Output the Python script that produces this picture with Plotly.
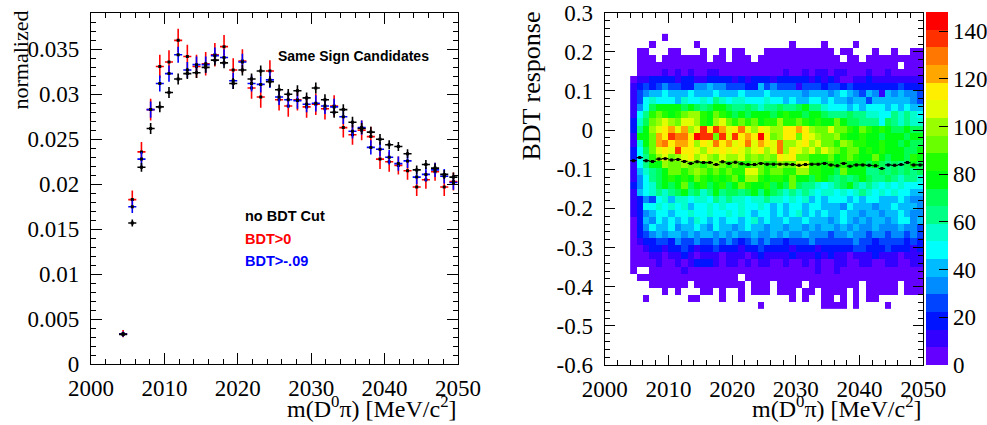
import colorsys
import plotly.graph_objects as go

# ---------------- left panel: normalized m(D0 pi) spectra ----------------
mass_centers = [2004.375, 2005.625, 2006.875, 2008.125, 2009.375, 2010.625, 2011.875,
                2013.125, 2014.375, 2015.625, 2016.875, 2018.125, 2019.375, 2020.625,
                2021.875, 2023.125, 2024.375, 2025.625, 2026.875, 2028.125, 2029.375,
                2030.625, 2031.875, 2033.125, 2034.375, 2035.625, 2036.875, 2038.125,
                2039.375, 2040.625, 2041.875, 2043.125, 2044.375, 2045.625, 2046.875,
                2048.125, 2049.375]

bdt_gt0 = [0.0034, 0.0183, 0.0236, 0.0283, 0.0331, 0.0336, 0.0360, 0.0342, 0.0331, 0.0334,
           0.0344, 0.0353, 0.0327, 0.0337, 0.0307, 0.0297, 0.0326, 0.0294, 0.0287, 0.0294,
           0.0286, 0.0289, 0.0284, 0.0287, 0.0263, 0.0255, 0.0260, 0.0253, 0.0228, 0.0225,
           0.0221, 0.0215, 0.0197, 0.0205, 0.0214, 0.0197, 0.0203]
bdt_gt0_err = [0.0004, 0.0010, 0.0011, 0.0012, 0.0013, 0.0013, 0.0013, 0.0013, 0.0013, 0.0013,
               0.0013, 0.0013, 0.0013, 0.0013, 0.0012, 0.0012, 0.0012, 0.0012, 0.0012, 0.0012,
               0.0012, 0.0012, 0.0012, 0.0012, 0.0011, 0.0011, 0.0011, 0.0011, 0.0011, 0.0011,
               0.0010, 0.0010, 0.0010, 0.0010, 0.0010, 0.0010, 0.0010]

bdt_gtm09 = [0.00335, 0.0175, 0.0228, 0.0283, 0.0312, 0.0323, 0.0344, 0.0327, 0.0333, 0.0333,
             0.0343, 0.0341, 0.0315, 0.0336, 0.0312, 0.0311, 0.0316, 0.0297, 0.0294, 0.0293,
             0.0289, 0.0290, 0.0287, 0.0286, 0.0275, 0.0259, 0.0263, 0.0241, 0.0239, 0.0230,
             0.0223, 0.0226, 0.0208, 0.0211, 0.0216, 0.0209, 0.0202]
bdt_gtm09_err = [0.0003, 0.0007, 0.0008, 0.0009, 0.0009, 0.0009, 0.0009, 0.0009, 0.0009, 0.0009,
                 0.0009, 0.0009, 0.0009, 0.0009, 0.0009, 0.0009, 0.0009, 0.0009, 0.0009, 0.0009,
                 0.0009, 0.0009, 0.0009, 0.0009, 0.0008, 0.0008, 0.0008, 0.0008, 0.0008, 0.0008,
                 0.0008, 0.0008, 0.0008, 0.0008, 0.0008, 0.0008, 0.0008]

no_cut = [0.00333, 0.0157, 0.0219, 0.0262, 0.0286, 0.0302, 0.0317, 0.0323, 0.0324, 0.0330,
          0.0338, 0.0335, 0.0312, 0.0327, 0.0317, 0.0326, 0.0314, 0.0305, 0.0300, 0.0304,
          0.0296, 0.0307, 0.0294, 0.0280, 0.0283, 0.0269, 0.0262, 0.0258, 0.0250, 0.0244,
          0.0242, 0.0234, 0.0216, 0.0222, 0.0218, 0.0211, 0.0208]
no_cut_err = [0.00025, 0.0004, 0.0005, 0.0006, 0.0006, 0.0006, 0.0006, 0.0006, 0.0006, 0.0006,
              0.0006, 0.0006, 0.0006, 0.0006, 0.0006, 0.0006, 0.0006, 0.0006, 0.0006, 0.0006,
              0.0006, 0.0006, 0.0006, 0.0006, 0.0006, 0.0006, 0.0006, 0.0006, 0.0006, 0.0005,
              0.0005, 0.0005, 0.0005, 0.0005, 0.0005, 0.0005, 0.0005]

left_yticks = [0, 0.005, 0.01, 0.015, 0.02, 0.025, 0.03, 0.035]
left_yticktext = ["0", "0.005", "0.01", "0.015", "0.02", "0.025", "0.03", "0.035"]
mass_ticks = [2000, 2010, 2020, 2030, 2040, 2050]

# ---------------- right panel: BDT response vs m(D0 pi) ----------------
hist_x = [2004.5, 2005.5, 2006.5, 2007.5, 2008.5, 2009.5, 2010.5, 2011.5, 2012.5, 2013.5,
          2014.5, 2015.5, 2016.5, 2017.5, 2018.5, 2019.5, 2020.5, 2021.5, 2022.5, 2023.5,
          2024.5, 2025.5, 2026.5, 2027.5, 2028.5, 2029.5, 2030.5, 2031.5, 2032.5, 2033.5,
          2034.5, 2035.5, 2036.5, 2037.5, 2038.5, 2039.5, 2040.5, 2041.5, 2042.5, 2043.5,
          2044.5, 2045.5, 2046.5, 2047.5, 2048.5, 2049.5]
# y bin centres from top row (0.237) down to bottom row (-0.447), bin width 0.018
hist_y = [0.237, 0.219, 0.201, 0.183, 0.165, 0.147, 0.129, 0.111, 0.093, 0.075,
          0.057, 0.039, 0.021, 0.003, -0.015, -0.033, -0.051, -0.069, -0.087, -0.105,
          -0.123, -0.141, -0.159, -0.177, -0.195, -0.213, -0.231, -0.249, -0.267, -0.285,
          -0.303, -0.321, -0.339, -0.357, -0.375, -0.393, -0.411, -0.429, -0.447]
# colour band read per cell (0..9,a..j = 20 contour bands of width 7.4 entries, '.' = empty)
band_rows = [
    ". ....0 ..... ..... ..... ..... ..... ..... ..... .....",
    ". ..0.. ....0 ..... ..... ....0 ....0 ....0 ..... .....",
    ". 00... 00... 0..0. 00... 00000 00000 0.00. ..0.. 0..00",
    ". 000.0 00000 0.00. 000.0 00000 00000 00.00 .0000 00000",
    ". 00000 00000 00000 00000 00000 00000 00000 00000 0.000",
    ". 00001 01010 01100 00000 00010 01011 01100 01001 00000",
    "0 11222 21221 12222 12122 21222 22121 21001 12111 11111",
    "1 23234 33224 45443 33225 34333 13332 33232 22222 23222",
    "1 34556 55565 55655 56555 65555 54555 45654 35415 45443",
    "1 36766 65766 76876 77666 76656 55665 65545 53555 55543",
    "1 469aa aa9a9 89aa9 88987 88988 9a887 66656 56665 65655",
    "1 68bcb abcdd bacba 9a9aa a9aba a9aa9 88898 87766 87876",
    "2 79cde dceed badec bcbca bbdbb cbaba aca99 88869 87877",
    "2 8adef gegde ifige fhedf eddff gfdcc eccba cbaba 99a99",
    "1 aacgf ihhfj iicie ifgfj fcdff cfedc cdbaa baa9a aa9aa",
    "1 7acgh fggfd fehfg efheg fehdd efdec cbdcb baaba a9a99",
    "2 69cef eiffe dfefe fedef dehdf edece dcbcc ababa aa99a",
    "2 68bde cdefd edced decdc dcfef ccbbb cabcb aaca9 aa9ba",
    "1 68aad ccdcc bcdcb cbbcc bbdcc eebba babaa a9a98 989a9",
    "1 5789a ccbcd cbcbc bbeec bccbb ddbba a9caa a8898 98989",
    "1 4689a babac babab caddb abbac aa9ba 98989 a9889 87887",
    "2 4679a 9ac9a b9ab9 acbaa b9a9c 98876 789a8 78767 67666",
    "1 56787 89a89 78a89 989a8 a9878 78767 76767 87676 76655",
    "1 24367 57767 76878 77677 87767 67565 66656 56655 56544",
    "1 26676 76756 67676 67667 65656 65665 55465 55455 65554",
    "1 24566 56676 67667 67656 65656 75656 55655 45545 56544",
    "0 25465 65657 65656 65675 65565 56555 45654 54554 56645",
    "0 24655 64556 54655 45655 45545 54545 54545 44544 45443",
    "0 23454 55454 55454 54454 45454 45444 34454 43443 44343",
    "0 12233 24334 33434 32343 43323 33433 33334 33233 33232",
    "0 01221 22321 22322 21223 22221 22212 22223 32223 22212",
    "0 00110 11210 11101 11012 11112 11121 21101 11211 10111",
    "0 00010 01012 22101 10101 10010 01010 01100 11001 10011",
    "0 ..000 00100 00000 00000 00000 00010 01000 00000 00000",
    ". 00000 00000 00000 0.000 00000 00000 00000 00000 00000",
    ". ..000 000.0 00000 00.00 0.000 0.000 00000 .0000 0.000",
    ". ....0 .0... 00.0. .0.00 0.000 .00.0 000.0 .0000 0.000",
    ". .0... ...00 ...0. .0... ....0 .0..0 0.0.0 .00.. .....",
    ". ..... ..... ..... ....0 ..... ....0 000.0 ....0 .....",
]
profile_mean = [-0.078, -0.070, -0.078, -0.080, -0.074, -0.073, -0.076, -0.075, -0.080, -0.085,
                -0.081, -0.083, -0.083, -0.088, -0.081, -0.085, -0.082, -0.086, -0.088, -0.088,
                -0.085, -0.087, -0.087, -0.087, -0.087, -0.088, -0.090, -0.088, -0.087, -0.087,
                -0.085, -0.089, -0.091, -0.085, -0.092, -0.089, -0.089, -0.090, -0.091, -0.098,
                -0.089, -0.090, -0.088, -0.083, -0.089, -0.089]

z_max = 148.0
n_bands = 20
bdt_ticks = [-0.6, -0.5, -0.4, -0.3, -0.2, -0.1, 0, 0.1, 0.2, 0.3]
bdt_ticktext = ["-0.6", "-0.5", "-0.4", "-0.3", "-0.2", "-0.1", "0", "0.1", "0.2", "0.3"]
cbar_ticks = [0, 20, 40, 60, 80, 100, 120, 140]

# ---------------- build ----------------
BAND_CHARS = "0123456789abcdefghij"
band_w = z_max / n_bands
z = []
for row in band_rows:
    s = row.replace(" ", "")
    s = (s + "." * len(hist_x))[:len(hist_x)]
    z.append([None if ch == "." else (BAND_CHARS.index(ch) + 0.5) * band_w for ch in s])


def root_color(k):
    idx = int((k + 0.99) * 50 / n_bands)
    if idx >= 49:
        hue = 0.0
    else:
        hue = 280.0 - (idx + 1) * 5.6
    r, g, b = colorsys.hls_to_rgb(hue / 360.0, 0.5, 1.0)
    return "rgb(%d,%d,%d)" % (round(r * 255), round(g * 255), round(b * 255))


colorscale = []
for k in range(n_bands):
    c = root_color(k)
    colorscale.append([k / n_bands, c])
    colorscale.append([(k + 1) / n_bands, c])

W, H = 987, 425


def px(x):
    return x / W


def py(y):
    return 1 - y / H


SERIF = "Liberation Serif, Times New Roman, serif"
SANS = "Liberation Sans, Arial, sans-serif"
TICK_SIZE = 23

fig = go.Figure()


def add_series(vals, errs, color, name):
    fig.add_trace(go.Scatter(
        x=mass_centers, y=vals, mode="markers", name=name, showlegend=False,
        marker=dict(symbol="square", size=3, color="black"),
        error_y=dict(type="data", array=errs, color=color, thickness=1.6, width=0),
        error_x=dict(type="constant", value=0.55, color=color, thickness=1.6, width=0),
        xaxis="x", yaxis="y"))


add_series(bdt_gt0, bdt_gt0_err, "#ff0000", "BDT>0")
add_series(bdt_gtm09, bdt_gtm09_err, "#0000ff", "BDT>-.09")
add_series(no_cut, no_cut_err, "#000000", "no BDT Cut")

fig.add_trace(go.Heatmap(
    x=hist_x, y=hist_y, z=z, zmin=0, zmax=z_max, colorscale=colorscale,
    xaxis="x2", yaxis="y2", hoverongaps=False,
    colorbar=dict(x=px(926), xanchor="left", y=py(12), yanchor="top",
                  len=353 / H, lenmode="fraction", thickness=22, thicknessmode="pixels",
                  xpad=0, ypad=0, outlinewidth=0,
                  tickvals=cbar_ticks, ticks="inside", ticklen=9, tickcolor="black",
                  tickfont=dict(family=SERIF, size=TICK_SIZE, color="black"))))

fig.add_trace(go.Scatter(
    x=hist_x, y=profile_mean, mode="markers", showlegend=False,
    marker=dict(symbol="square", size=3, color="black"),
    error_x=dict(type="constant", value=0.5, color="black", thickness=1.2, width=0),
    error_y=dict(type="constant", value=0.003, color="black", thickness=1.2, width=0),
    xaxis="x2", yaxis="y2"))

axis_common = dict(showline=True, linecolor="black", linewidth=1.2, mirror="ticks",
                   ticks="inside", tickcolor="black", tickwidth=1, showgrid=False,
                   zeroline=False, automargin=False,
                   tickfont=dict(family=SERIF, size=TICK_SIZE, color="black"))

fig.update_layout(
    width=W, height=H, margin=dict(l=0, r=0, t=0, b=0, autoexpand=False),
    paper_bgcolor="white", plot_bgcolor="white", showlegend=False,
    xaxis=dict(domain=[px(91), px(458)], range=[2000, 2050], tickvals=mass_ticks,
               ticklen=11, ticklabelstandoff=3,
               minor=dict(dtick=2, tick0=2000, ticks="inside", ticklen=5, tickcolor="black"),
               anchor="y", **axis_common),
    yaxis=dict(domain=[py(364.3), py(12.7)], range=[0, 0.03907], tickvals=left_yticks,
               ticktext=left_yticktext, ticklen=11, ticklabelstandoff=6,
               minor=dict(dtick=0.001, tick0=0, ticks="inside", ticklen=5, tickcolor="black"),
               anchor="x", **axis_common),
    xaxis2=dict(domain=[px(604.7), px(923.3)], range=[2000, 2050], tickvals=mass_ticks,
                ticklen=10, ticklabelstandoff=3,
                minor=dict(dtick=2, tick0=2000, ticks="inside", ticklen=5, tickcolor="black"),
                anchor="y2", **axis_common),
    yaxis2=dict(domain=[py(365), py(12.7)], range=[-0.6, 0.3], tickvals=bdt_ticks,
                ticktext=bdt_ticktext, ticklen=10, ticklabelstandoff=6,
                minor=dict(dtick=0.02, tick0=0, ticks="inside", ticklen=5, tickcolor="black"),
                anchor="x2", **axis_common),
)

xtitle = "m(D<sup>0</sup>π) [MeV/c<sup>2</sup>]"
ann = [
    dict(text=xtitle, x=px(459), y=py(424), xanchor="right", yanchor="bottom",
         font=dict(family=SERIF, size=24, color="black")),
    dict(text=xtitle, x=px(924), y=py(424), xanchor="right", yanchor="bottom",
         font=dict(family=SERIF, size=24, color="black")),
    dict(text="normalized", x=px(20), y=py(9), xanchor="center", yanchor="top",
         textangle=-90, font=dict(family=SERIF, size=22, color="black")),
    dict(text="BDT response", x=px(531), y=py(10), xanchor="center", yanchor="top",
         textangle=-90, font=dict(family=SERIF, size=26, color="black")),
    dict(text="<b>Same Sign Candidates</b>", x=px(276), y=py(56), xanchor="left",
         yanchor="middle", font=dict(family=SANS, size=14, color="black")),
    dict(text="<b>no BDT Cut</b>", x=px(243), y=py(216), xanchor="left",
         yanchor="middle", font=dict(family=SANS, size=14.5, color="black")),
    dict(text="<b>BDT>0</b>", x=px(243), y=py(238.5), xanchor="left",
         yanchor="middle", font=dict(family=SANS, size=14.5, color="#ff0000")),
    dict(text="<b>BDT>-.09</b>", x=px(243), y=py(261), xanchor="left",
         yanchor="middle", font=dict(family=SANS, size=14.5, color="#0000ff")),
]
for a in ann:
    a.update(xref="paper", yref="paper", showarrow=False)
fig.update_layout(annotations=ann)

fig.write_html("out.html")
